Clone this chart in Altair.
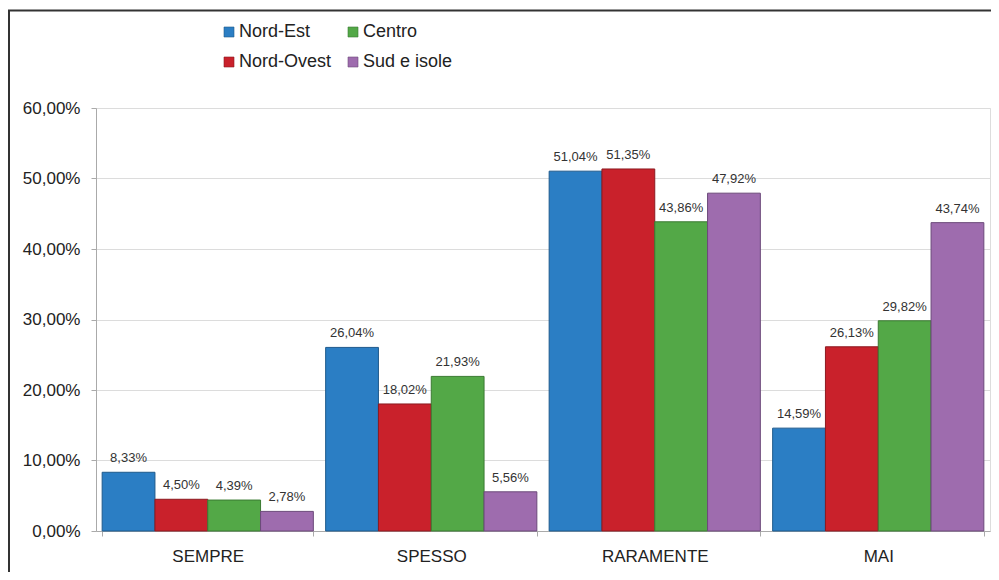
import altair as alt
import pandas as pd

categories = ["SEMPRE", "SPESSO", "RARAMENTE", "MAI"]
series = ["Nord-Est", "Nord-Ovest", "Centro", "Sud e isole"]
nord_est = [8.33, 26.04, 51.04, 14.59]
nord_ovest = [4.50, 18.02, 51.35, 26.13]
centro = [4.39, 21.93, 43.86, 29.82]
sud_isole = [2.78, 5.56, 47.92, 43.74]

fill_colors = ["#2b7ec4", "#c9212b", "#53a847", "#9e6cae"]
stroke_colors = ["#1f5a8c", "#8c1a20", "#3b7a32", "#6c4a7a"]

rows = []
for s, vals in zip(series, [nord_est, nord_ovest, centro, sud_isole]):
    for c, v in zip(categories, vals):
        rows.append({"cat": c, "serie": s, "v": v / 100})
df = pd.DataFrame(rows)

FONT = "Liberation Sans"

base = alt.Chart(df).encode(
    x=alt.X("cat:N", sort=categories, title=None,
            scale=alt.Scale(paddingInner=0.055, paddingOuter=0.0275),
            axis=alt.Axis(labelAngle=0, labelFontSize=17, labelColor="#222",
                          labelFont=FONT, tickBand="extent", tickSize=5,
                          tickColor="#aaa", domainColor="#aaa",
                          labelPadding=12, grid=False)),
    xOffset=alt.XOffset("serie:N", sort=series,
                        scale=alt.Scale(domain=series, paddingInner=0, paddingOuter=0)),
    y=alt.Y("v:Q", title=None,
            scale=alt.Scale(domain=[0, 0.6], nice=False),
            axis=alt.Axis(values=[0, 0.1, 0.2, 0.3, 0.4, 0.5, 0.6],
                          labelExpr="replace(format(datum.value, '.2%'), '.', ',')",
                          labelFontSize=17, labelColor="#222", labelFont=FONT,
                          tickSize=5, tickColor="#aaa", domainColor="#aaa",
                          labelPadding=11, gridColor="#dcdcdc")),
)

bars = base.mark_bar(strokeWidth=1).encode(
    fill=alt.Fill("serie:N", title=None,
                  scale=alt.Scale(domain=series, range=fill_colors),
                  legend=alt.Legend(orient="none", legendX=124, legendY=-85,
                                    columns=2, symbolType="square", symbolSize=100,
                                    symbolStrokeColor="#444", symbolStrokeWidth=0.6,
                                    labelFontSize=18, labelFont=FONT, labelColor="#222",
                                    labelOffset=1, columnPadding=12, rowPadding=12,
                                    padding=0)),
    stroke=alt.Stroke("serie:N", scale=alt.Scale(domain=series, range=stroke_colors),
                      legend=None),
)

labels = base.mark_text(baseline="bottom", dy=-7, fontSize=13, font=FONT,
                        color="#333").encode(
    text="lbl:N"
).transform_calculate(lbl="replace(format(datum.v, '.2%'), '.', ',')")

one = pd.DataFrame({"a": [0]})
left_line = alt.Chart(one).mark_rule(color="#333", strokeWidth=2).encode(
    x=alt.value(-87), y=alt.value(-98), y2=alt.value(470))
top_line = alt.Chart(one).mark_rule(color="#333", strokeWidth=2).encode(
    x=alt.value(-88), x2=alt.value(900), y=alt.value(-97.5))

chart = alt.layer(bars, labels, left_line, top_line).properties(
    width=894, height=423,
    autosize=alt.AutoSizeParams(type="none"),
    padding={"left": 88, "top": 100, "right": 1, "bottom": 41},
).configure_view(stroke="#999", strokeWidth=1).configure(background="white")

chart.save("out.html", embed_options={"renderer": "svg", "actions": False})
